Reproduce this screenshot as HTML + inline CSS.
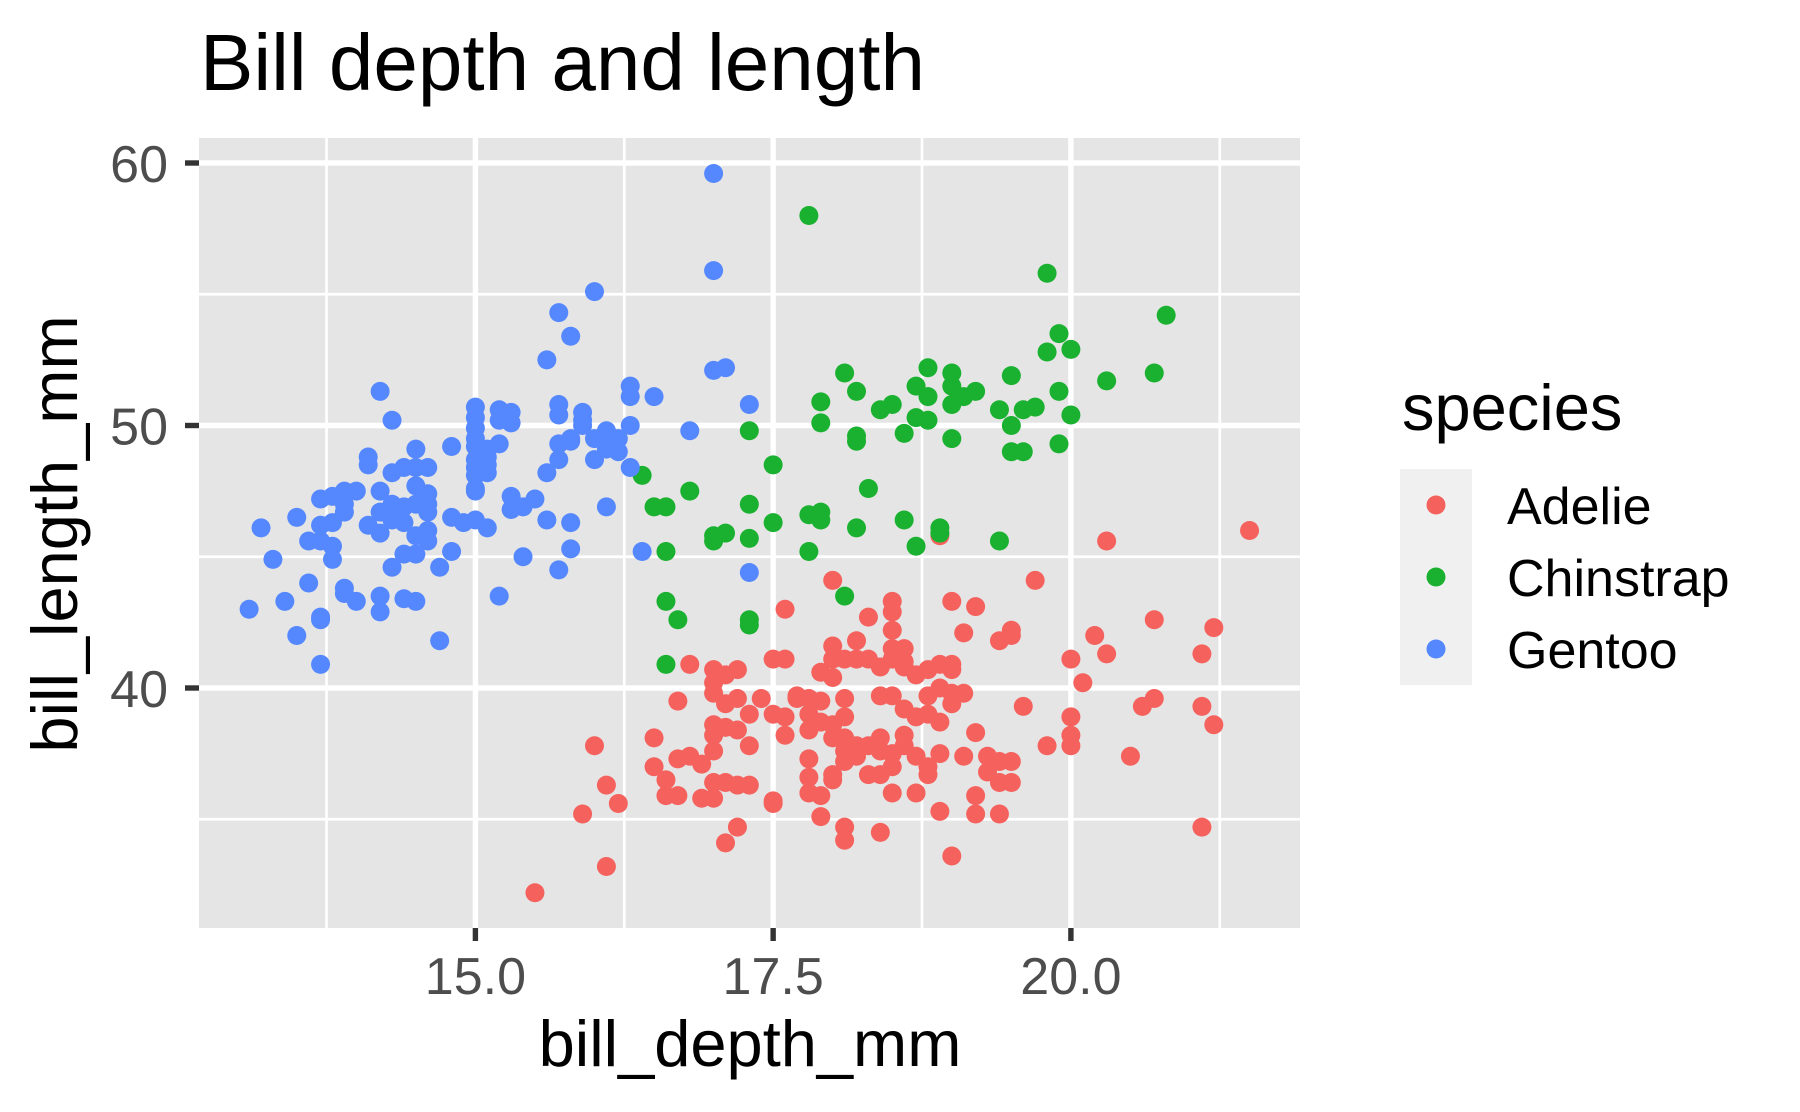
<!DOCTYPE html>
<html><head><meta charset="utf-8"><style>
html,body{margin:0;padding:0;background:#fff;}
svg{display:block;font-family:"Liberation Sans",Arial,sans-serif;}
</style></head><body>
<svg id="chart" width="1800" height="1112" viewBox="0 0 1800 1112">
<text x="200" y="90" font-size="80" fill="#000">Bill depth and length</text>
<g id="panel"></g>
<g id="points"></g>
<g id="axes"></g>
<text x="750" y="1066" font-size="65" text-anchor="middle" fill="#000">bill_depth_mm</text>
<text transform="translate(77,534) rotate(-90)" font-size="65" text-anchor="middle" fill="#000">bill_length_mm</text>
<g id="legend">
<text x="1402" y="430" font-size="65" fill="#000">species</text>
</g>
</svg>
<script>
const xTicks = [15.0, 17.5, 20.0];
const xTickLabels = ["15.0", "17.5", "20.0"];
const xMinor = [13.75, 16.25, 18.75, 21.25];
const yTicks = [40, 50, 60];
const yTickLabels = ["40", "50", "60"];
const yMinor = [35, 45, 55];
const speciesNames = ["Adelie", "Chinstrap", "Gentoo"];
const speciesColors = ["#F5625E", "#19B12F", "#5588FF"];

const gentooDepth = [17.0,17.0,16.0,15.7,15.8,15.6,14.2,17.0,17.1,16.3,16.3,16.5,17.3,14.3,15.0,15.0,15.0,15.0,15.0,15.0,15.0,15.0,15.0,15.0,15.0,15.2,15.3,15.2,15.3,15.2,15.1,15.1,15.1,15.1,15.7,15.7,15.9,15.9,15.8,15.7,15.7,16.0,16.1,16.2,16.1,16.3,16.0,16.2,16.3,16.1,16.8,14.8,14.8,14.5,14.6,14.5,14.4,14.3,14.1,14.1,14.0,13.8,13.7,13.9,14.2,14.5,14.6,14.6,14.5,14.4,14.3,14.2,14.1,14.2,14.3,14.4,14.6,14.6,14.5,14.6,14.4,14.5,14.3,14.7,14.8,14.9,15.1,13.9,13.9,13.8,13.7,13.7,13.8,13.8,13.6,13.5,13.2,13.3,13.6,13.4,13.1,13.7,13.7,13.5,13.7,13.9,13.9,14.0,14.2,14.2,14.4,14.5,14.7,15.2,15.4,15.7,15.8,15.6,15.4,15.3,15.5,15.3,15.8,16.1,16.4,17.3,15.8,15.9,15.6];
const gentooLength = [59.6,55.9,55.1,54.3,53.4,52.5,51.3,52.1,52.2,51.5,51.1,51.1,50.8,50.2,50.7,50.3,49.9,49.5,49.2,48.7,48.4,48.1,47.6,46.4,47.5,50.6,50.5,50.2,50.1,49.3,48.8,48.2,49.1,48.5,50.8,50.4,50.5,50.0,49.5,49.3,48.7,49.5,49.5,49.5,49.1,50.0,48.7,49.0,48.4,49.8,49.8,49.2,46.5,49.1,48.4,48.4,48.4,48.2,48.8,48.5,47.5,47.3,47.2,47.5,47.5,47.7,47.4,47.0,47.0,46.9,47.0,46.7,46.2,45.9,46.4,46.3,46.7,46.0,45.8,45.6,45.1,45.1,44.6,44.6,45.2,46.3,46.1,47.0,46.7,46.3,46.2,45.6,45.4,44.9,45.6,46.5,46.1,44.9,44.0,43.3,43.0,42.7,42.6,42.0,40.9,43.8,43.6,43.3,43.5,42.9,43.4,43.3,41.8,43.5,45.0,44.5,45.3,46.4,46.9,47.3,47.2,46.8,46.3,46.9,45.2,44.4,49.4,50.2,48.2];

const chinDepth = [17.8,19.8,20.8,19.9,20.0,19.8,20.7,20.3,18.8,19.0,19.5,18.1,18.2,18.7,19.0,19.2,19.9,18.8,18.5,18.4,17.9,19.1,19.0,19.4,19.6,19.7,20.0,17.9,18.2,18.2,18.6,18.7,18.8,19.0,19.5,19.5,19.6,19.9,17.3,16.4,16.8,17.5,18.3,17.3,16.5,16.6,17.8,17.9,17.9,18.2,18.6,18.9,19.4,18.7,17.5,17.1,17.0,17.0,17.3,16.6,17.8,18.1,16.6,16.7,17.3,17.3,16.6,18.9];
const chinLength = [58.0,55.8,54.2,53.5,52.9,52.8,52.0,51.7,52.2,52.0,51.9,52.0,51.3,51.5,51.5,51.3,51.3,51.1,50.8,50.6,50.9,51.1,50.8,50.6,50.6,50.7,50.4,50.1,49.6,49.4,49.7,50.3,50.2,49.5,50.0,49.0,49.0,49.3,49.8,48.1,47.5,48.5,47.6,47.0,46.9,46.9,46.6,46.7,46.4,46.1,46.4,46.1,45.6,45.4,46.3,45.9,45.8,45.6,45.7,45.2,45.2,43.5,43.3,42.6,42.6,42.4,40.9,45.9];

const adelieDepth = [21.5,20.3,18.9,19.7,18.0,17.6,19.0,19.2,18.5,18.5,18.3,20.7,21.2,19.5,19.5,19.4,19.1,20.2,20.3,21.1,18.0,18.2,18.5,18.5,18.6,18.4,18.5,18.6,17.5,17.6,18.1,18.2,18.3,18.0,16.8,17.0,17.1,17.2,17.0,16.7,17.4,17.7,17.7,17.8,17.9,18.0,18.1,18.4,18.5,18.6,18.7,18.8,18.8,18.9,19.0,19.0,19.1,18.9,19.0,20.0,20.1,19.6,20.7,20.6,21.1,21.2,20.0,20.0,20.0,19.8,20.5,21.1,17.0,17.1,17.2,17.0,17.1,17.2,17.0,17.0,16.8,16.9,16.5,16.7,16.5,16.6,16.6,16.9,17.0,17.0,17.1,17.2,17.3,17.3,17.3,17.5,17.6,17.6,17.8,17.8,17.9,17.9,18.1,18.1,18.1,18.2,18.3,18.4,18.4,18.5,18.6,18.6,18.7,18.8,18.9,19.1,19.2,19.3,19.4,19.3,19.4,19.5,19.2,18.9,18.8,18.5,18.4,18.3,18.0,17.8,17.8,17.8,17.9,18.0,18.1,18.5,18.1,18.1,18.4,17.9,17.5,17.5,17.2,17.1,16.2,16.1,15.9,16.0,16.1,15.5,19.0,18.9,19.0,18.6,18.7,18.8,18.0,18.0,18.2,19.2,19.4,19.5,18.7,16.7];
const adelieLength = [46.0,45.6,45.8,44.1,44.1,43.0,43.3,43.1,43.3,42.9,42.7,42.6,42.3,42.2,42.0,41.8,42.1,42.0,41.3,41.3,41.6,41.8,42.2,41.5,41.5,40.8,41.1,41.0,41.1,41.1,41.1,41.1,41.1,41.1,40.9,40.7,40.5,40.7,40.2,39.5,39.6,39.7,39.6,39.6,40.6,40.4,39.6,39.7,39.7,40.8,40.5,40.7,39.7,40.9,40.9,40.7,39.8,40.0,39.8,41.1,40.2,39.3,39.6,39.3,39.3,38.6,38.9,38.2,37.8,37.8,37.4,34.7,39.8,39.4,39.6,38.6,38.5,38.4,38.2,37.6,37.4,37.1,38.1,37.3,37.0,36.5,35.9,35.8,35.8,36.4,36.4,36.3,36.3,37.8,39.0,39.0,38.9,38.2,39.0,38.4,38.7,39.5,38.9,38.1,37.6,37.8,37.8,38.1,37.6,37.5,37.8,38.2,37.4,37.0,37.5,37.4,38.3,37.4,37.2,36.8,36.4,36.4,35.9,35.3,36.7,37.0,36.7,36.7,36.7,36.6,36.0,37.3,35.9,36.5,37.2,36.0,34.7,34.2,34.5,35.1,35.6,35.7,34.7,34.1,35.6,36.3,35.2,37.8,33.2,32.2,33.6,38.7,39.4,39.2,38.9,39.0,38.1,38.6,37.4,35.2,35.2,37.2,36.0,35.9];

const NS = "http://www.w3.org/2000/svg";
const PL = 199, PR = 1300, PT = 138, PB = 928;
function xs(v){ return 475.4 + (v - 15) * 119.1; }
function ys(v){ return 688 - (v - 40) * 26.25; }
function mk(tag, attrs, parent){
  const e = document.createElementNS(NS, tag);
  for (const k in attrs) e.setAttribute(k, attrs[k]);
  parent.appendChild(e);
  return e;
}
const panel = document.getElementById('panel');
const bg = mk('rect', {x:PL, y:PT, width:PR-PL, height:PB-PT, fill:'#E5E5E5'}, panel);


xMinor.forEach(v => {
  const l = mk('line', {x1:xs(v), x2:xs(v), y1:PT, y2:PB, stroke:'#fff', 'stroke-width':2.7}, panel);
  
  
});
yMinor.forEach(v => {
  const l = mk('line', {x1:PL, x2:PR, y1:ys(v), y2:ys(v), stroke:'#fff', 'stroke-width':2.7}, panel);
  
  
});
xTicks.forEach(v => {
  const l = mk('line', {x1:xs(v), x2:xs(v), y1:PT, y2:PB, stroke:'#fff', 'stroke-width':5.4}, panel);
  
  
});
yTicks.forEach(v => {
  const l = mk('line', {x1:PL, x2:PR, y1:ys(v), y2:ys(v), stroke:'#fff', 'stroke-width':5.4}, panel);
  
  
});

const axes = document.getElementById('axes');
xTicks.forEach((v, i) => {
  const t = mk('line', {x1:xs(v), x2:xs(v), y1:PB, y2:PB+13, stroke:'#333', 'stroke-width':5.4}, axes);
  
  
  const lb = mk('text', {x:xs(v), y:994, 'font-size':52, 'text-anchor':'middle', fill:'#4D4D4D'}, axes);
  lb.textContent = xTickLabels[i];
  
  
});
yTicks.forEach((v, i) => {
  const t = mk('line', {x1:PL-14, x2:PL, y1:ys(v), y2:ys(v), stroke:'#333', 'stroke-width':5.4}, axes);
  
  
  const lb = mk('text', {x:168, y:ys(v)+19, 'font-size':52, 'text-anchor':'end', fill:'#4D4D4D'}, axes);
  lb.textContent = yTickLabels[i];
  
  
});

const pts = document.getElementById('points');
const series = [[adelieDepth, adelieLength], [chinDepth, chinLength], [gentooDepth, gentooLength]];
series.forEach((s, si) => {
  s[0].forEach((d, j) => {
    const c = mk('circle', {cx:xs(d), cy:ys(s[1][j]), r:9.5, fill:speciesColors[si]}, pts);
    
    
  });
});

const leg = document.getElementById('legend');
speciesNames.forEach((n, i) => {
  const y0 = 469 + i * 72;
  const k = mk('rect', {x:1400, y:y0, width:72, height:72, fill:'#F0F0F0'}, leg);
  
  
  const c = mk('circle', {cx:1436, cy:y0+36, r:9.5, fill:speciesColors[i]}, leg);
  
  
  const t = mk('text', {x:1507, y:y0+55, 'font-size':52, fill:'#000'}, leg);
  t.textContent = n;
  
  
});
</script>
</body></html>
